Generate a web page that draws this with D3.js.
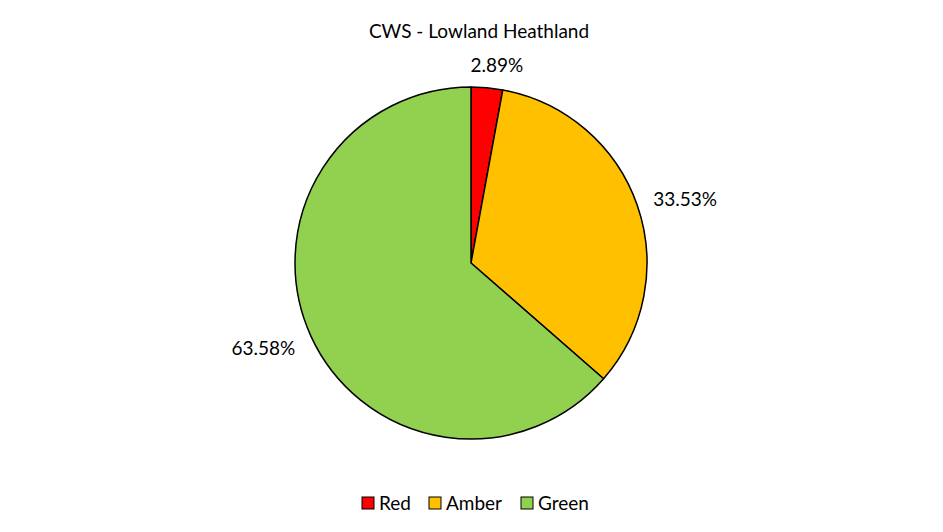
<!DOCTYPE html>
<html>
<head>
<meta charset="utf-8">
<script src="https://cdn.jsdelivr.net/npm/d3@7"></script>
<style>
  body { margin: 0; background: #fff; }
  text { font-family: Lato, "Open Sans", sans-serif; fill: #000; }
</style>
</head>
<body>
<div id="chart"></div>
<script>
var categories = ["Red", "Amber", "Green"];
var values = [2.89, 33.53, 63.58];
var labels = ["2.89%", "33.53%", "63.58%"];
var colors = ["#FF0000", "#FFC000", "#92D050"];

var width = 943, height = 532;
var cx = 471, cy = 263, radius = 176;

var svg = d3.select("#chart")
  .append("svg")
    .attr("width", width)
    .attr("height", height);

// title
svg.append("text")
  .attr("x", 479)
  .attr("y", 38)
  .attr("text-anchor", "middle")
  .style("font-size", "19px")
  .text("CWS - Lowland Heathland");

var pie = d3.pie().sort(null).value(d => d);
var arcs = pie(values);

var arc = d3.arc().innerRadius(0).outerRadius(radius);

var g = svg.append("g")
  .attr("transform", "translate(" + cx + "," + cy + ")");

g.selectAll("path")
  .data(arcs)
  .enter()
  .append("path")
    .attr("d", arc)
    .attr("fill", (d, i) => colors[i])
    .attr("stroke", "#000")
    .attr("stroke-width", 1.5)
    .attr("stroke-linejoin", "round");

// data labels, outside end
g.selectAll(".lbl")
  .data(arcs)
  .enter()
  .append("text")
    .attr("class", "lbl")
    .each(function(d, i) {
      var a = (d.startAngle + d.endAngle) / 2;
      var s = Math.sin(a), c = Math.cos(a);
      var anchor = Math.abs(s) < 0.3 ? "middle" : (s > 0 ? "start" : "end");
      var r = anchor == "middle" ? 198 : 193;
      var x = r * s, y = -r * c;
      if (anchor == "middle") x += 8;
      if (s < 0) y += 5;
      d3.select(this)
        .attr("x", x)
        .attr("y", y)
        .attr("dy", "0.35em")
        .attr("text-anchor", anchor)
        .style("font-size", "19px")
        .text(labels[i]);
    });

// legend
var legendX = [362, 429, 521];
var legend = svg.append("g");
categories.forEach(function(cat, i) {
  legend.append("rect")
    .attr("x", legendX[i])
    .attr("y", 497)
    .attr("width", 12)
    .attr("height", 12)
    .attr("fill", colors[i])
    .attr("stroke", "#000")
    .attr("stroke-width", 1);
  legend.append("text")
    .attr("x", legendX[i] + 17)
    .attr("y", 510)
    .style("font-size", "19px")
    .text(cat);
});
</script>
</body>
</html>
